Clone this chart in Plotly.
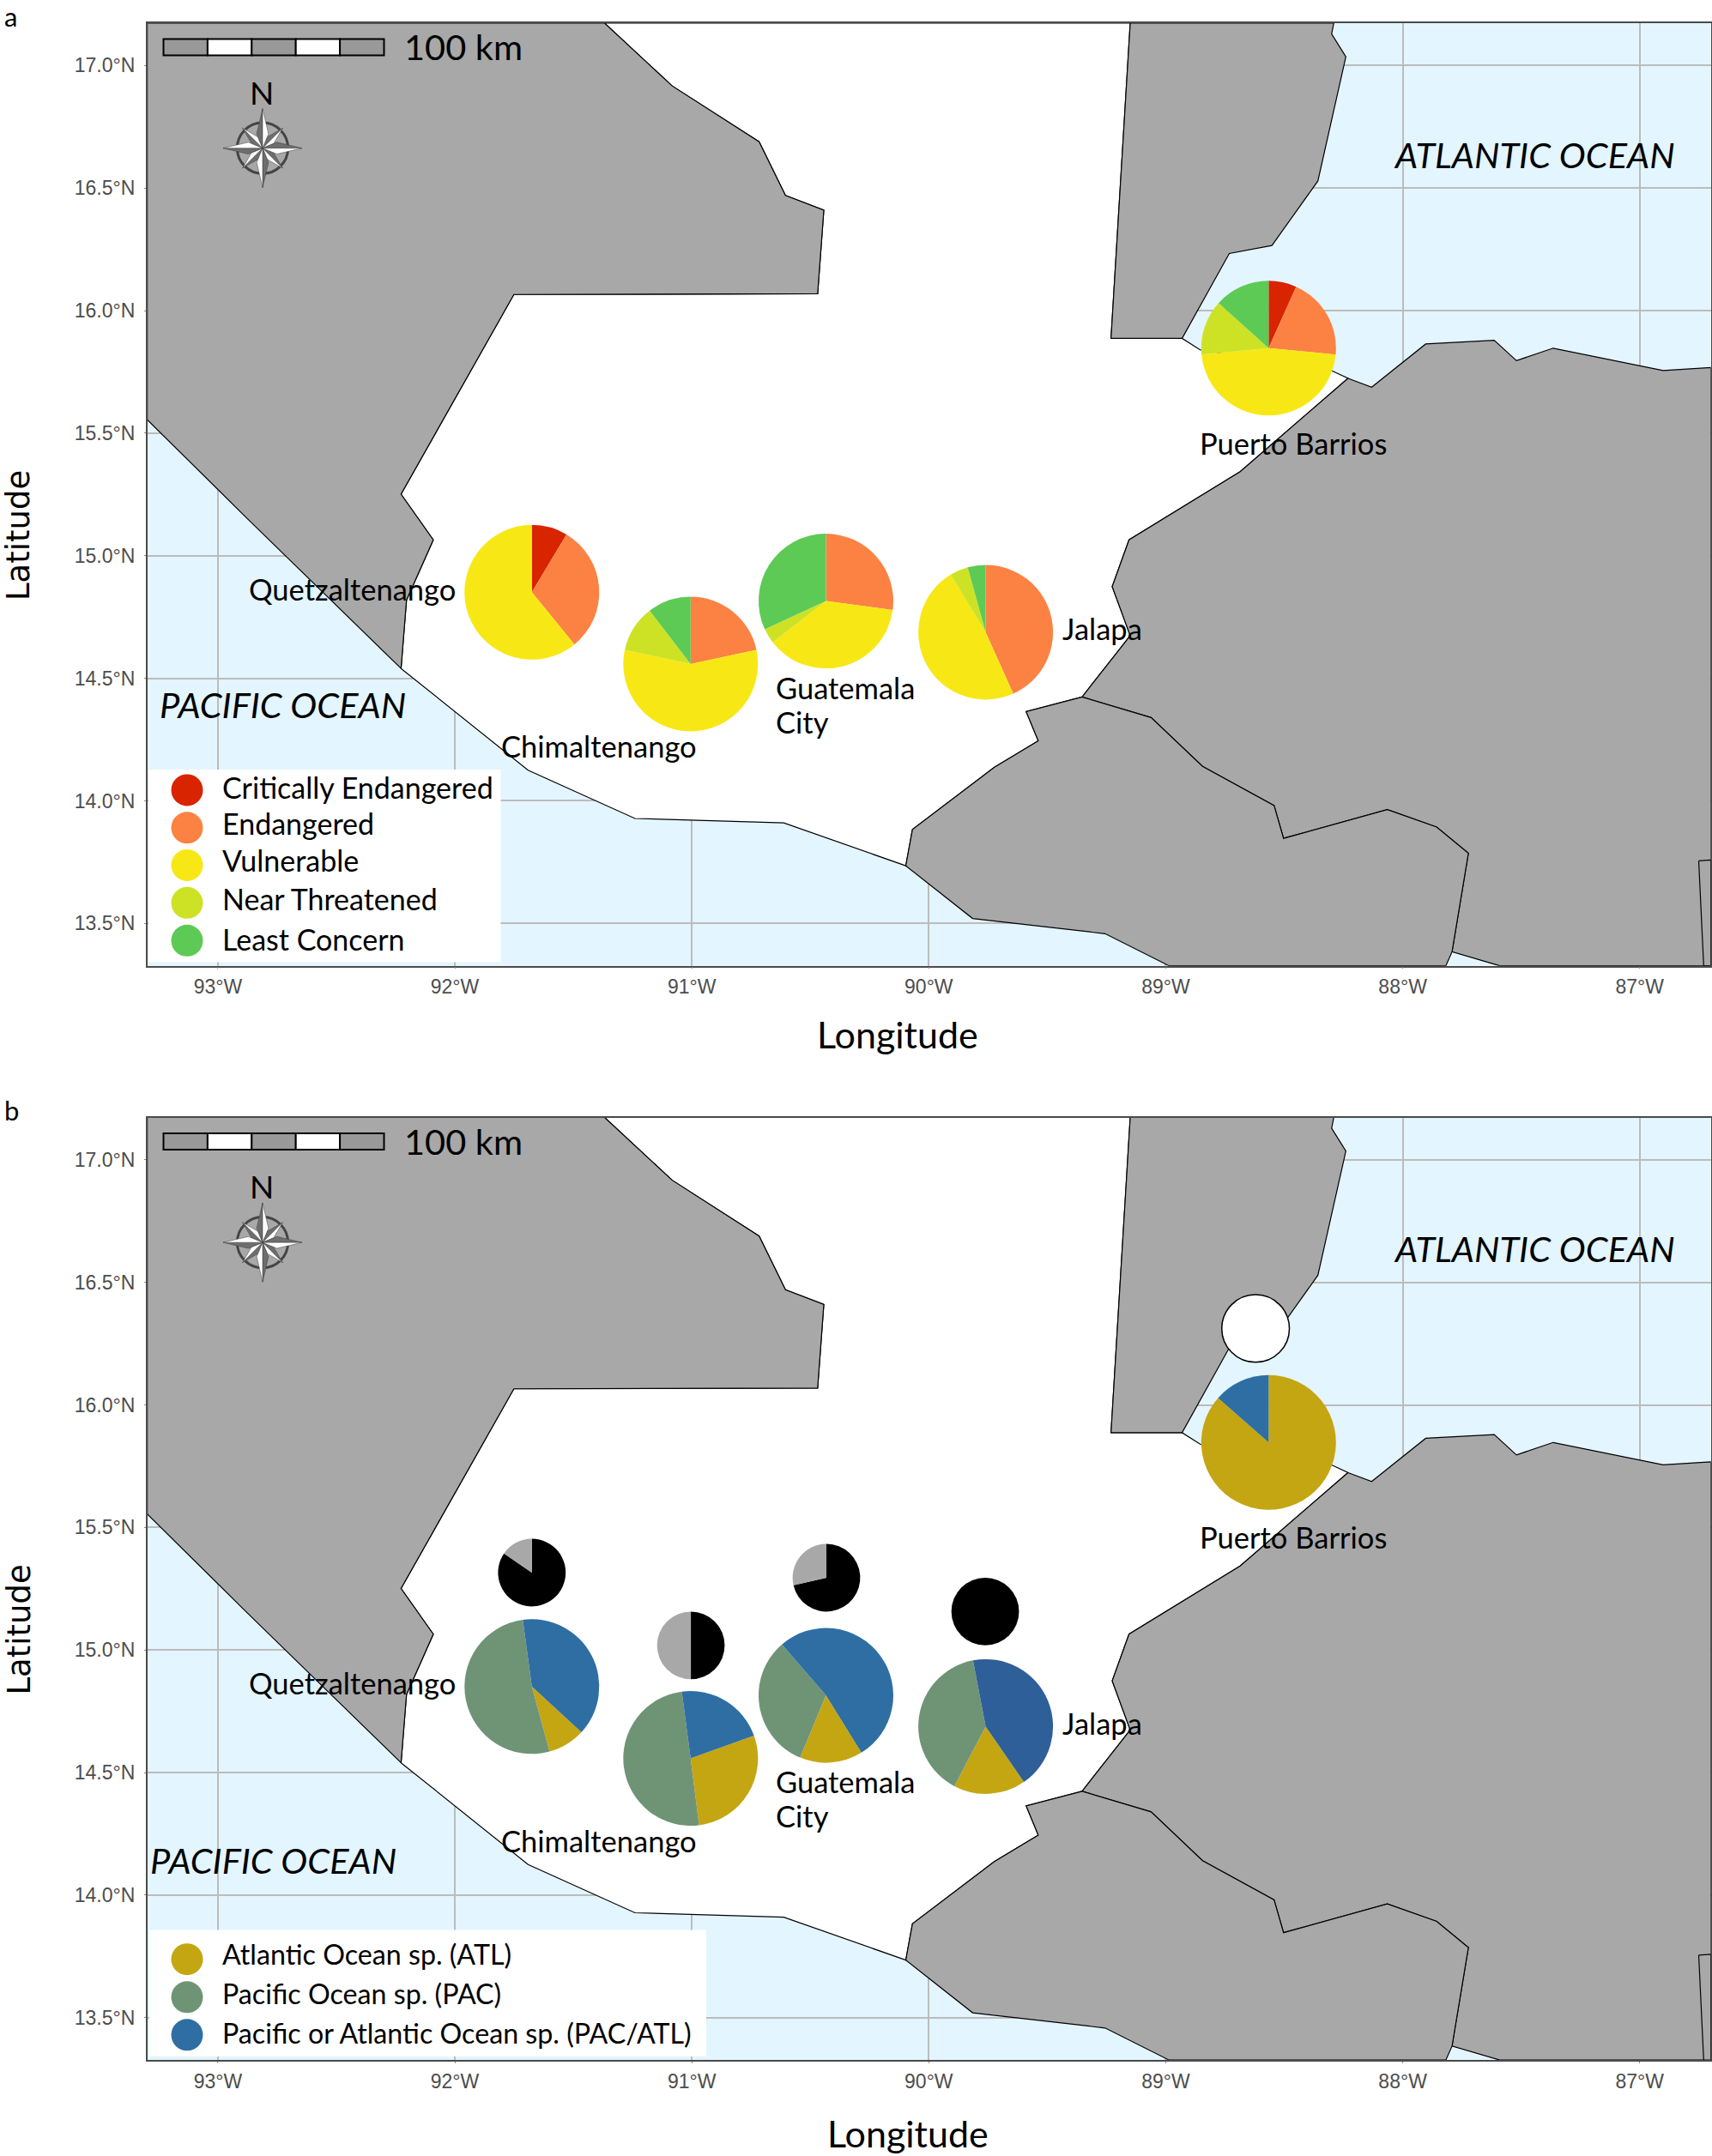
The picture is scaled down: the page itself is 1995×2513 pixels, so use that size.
import math
import plotly.graph_objects as go

# ---------- geography (lon / lat) ----------
MEXICO_LON = [-93.298, -91.368, -91.083, -90.716, -90.605, -90.443, -90.469, -91.751, -92.227, -92.091, -92.204, -92.227, -92.892, -93.298]
MEXICO_LAT = [17.173, 17.173, 16.917, 16.689, 16.470, 16.410, 16.069, 16.066, 15.251, 15.065, 14.819, 14.540, 15.167, 15.555]
BELIZE_LON = [-89.150, -88.291, -88.300, -88.240, -88.358, -88.552, -88.732, -88.931, -89.231]
BELIZE_LAT = [17.173, 17.173, 17.129, 17.036, 16.529, 16.266, 16.233, 15.887, 15.887]
HONDURAS_LON = [-88.231, -88.131, -87.903, -87.614, -87.520, -87.365, -86.901, -86.700, -86.700, -87.591, -87.792, -87.723, -87.857, -88.065, -88.503, -88.543, -88.845, -89.062, -89.353, -89.150, -89.226, -89.155, -88.686]
HONDURAS_LAT = [15.724, 15.688, 15.864, 15.879, 15.796, 15.847, 15.756, 15.768, 13.327, 13.327, 13.384, 13.786, 13.893, 13.964, 13.847, 13.981, 14.141, 14.340, 14.424, 14.674, 14.874, 15.065, 15.343]
SALVADOR_LON = [-89.353, -89.589, -89.538, -89.723, -90.069, -90.097, -89.815, -89.256, -88.986, -87.818, -87.792, -87.723, -87.857, -88.065, -88.503, -88.543, -88.845, -89.062]
SALVADOR_LAT = [14.424, 14.364, 14.245, 14.137, 13.883, 13.735, 13.520, 13.458, 13.327, 13.327, 13.384, 13.786, 13.893, 13.964, 13.847, 13.981, 14.141, 14.340]
NICARAGUA_LON = [-86.751, -86.700, -86.700, -86.730]
NICARAGUA_LAT = [13.755, 13.759, 13.327, 13.327]
GUATEMALA_LON = [-92.227, -91.691, -91.240, -90.612, -90.097, -90.069, -89.723, -89.538, -89.589, -89.353, -89.150, -89.226, -89.155, -88.686, -88.231, -88.306, -88.855, -88.931, -89.231, -89.150, -91.368, -91.083, -90.716, -90.605, -90.443, -90.469, -91.751, -92.227, -92.091, -92.204]
GUATEMALA_LAT = [14.540, 14.125, 13.928, 13.910, 13.735, 13.883, 14.137, 14.245, 14.364, 14.424, 14.674, 14.874, 15.065, 15.343, 15.724, 15.758, 15.840, 15.887, 15.887, 17.173, 17.173, 16.917, 16.689, 16.470, 16.410, 16.069, 16.066, 15.251, 15.065, 14.819]

# ---------- sites ----------
SITES = ["Quetzaltenango", "Chimaltenango", "Guatemala City", "Jalapa", "Puerto Barrios"]
SITE_LON = [-91.675, -91.005, -90.434, -89.760, -88.566]
SITE_LAT = [14.851, 14.558, 14.815, 14.688, 15.847]
SMALL_LON = [-91.675, -91.004, -90.432, -89.762, -88.621]
SMALL_LAT = [15.316, 15.019, 15.295, 15.157, 16.312]

# ---------- panel a: IUCN status (%) ----------
STATUS = ["Critically Endangered", "Endangered", "Vulnerable", "Near Threatened", "Least Concern"]
STATUS_COLORS = ["#d92400", "#fc8243", "#f7e815", "#cde225", "#5dca55"]
STATUS_VALUES = [
    [8.6, 30.5, 60.9, 0, 0],
    [0, 21.6, 56.8, 11.2, 10.4],
    [0, 27.1, 37.4, 3.6, 31.9],
    [0, 43.3, 48.0, 4.4, 4.3],
    [6.7, 19.8, 47.0, 13.2, 13.3],
]

# ---------- panel b: ocean distribution (%) ----------
OCEAN = ["Atlantic Ocean sp. (ATL)", "Pacific Ocean sp. (PAC)", "Pacific or Atlantic Ocean sp. (PAC/ATL)"]
OCEAN_COLORS = ["#c4a613", "#6f9475", "#2f6ea3"]
OCEAN_VALUES = [
    [8.9, 52.1, 39.0],
    [28.5, 49.9, 21.6],
    [15.1, 32.4, 52.5],
    [17.3, 39.3, 43.4],
    [86.5, 0, 13.5],
]
OCEAN_ROTATION = [164.8 - 32.1, 172.9 - 102.7, 202.6 - 54.4, 207.7 - 62.3, 0]
BLACK_VALUES = [84.6, 50.0, 71.4, 100.0, 0.0]
GREY_VALUES = [15.4, 50.0, 28.6, 0.0, 0.0]
EMPTY_VALUES = [0, 0, 0, 0, 100]

LON_TICKS = [-93, -92, -91, -90, -89, -88, -87]
LON_LABELS = ["93°W", "92°W", "91°W", "90°W", "89°W", "88°W", "87°W"]
LAT_TICKS = [13.5, 14.0, 14.5, 15.0, 15.5, 16.0, 16.5, 17.0]
LAT_LABELS = ["13.5°N", "14.0°N", "14.5°N", "15.0°N", "15.5°N", "16.0°N", "16.5°N", "17.0°N"]

# ---------- layout constants ----------
W, H = 1995, 2513
PX_L, PX_R = 171.6, 1993.6
PX_T, PX_B = 27.0, 1125.7
DY_B = 1275.5
XR = [-93.298, -86.700]
YR = [13.327, 17.173]
LAND = "#a8a8a8"
OCEAN_BG = "#e3f5fe"
TXT = "Lato"
LABEL_SIZE = 34.5


def px(X):
    return X / W


def py(Y):
    return 1 - Y / H


def lon2x(lon):
    return PX_L + (lon - XR[0]) / (XR[1] - XR[0]) * (PX_R - PX_L)


def lat2y(lat, dy):
    return PX_T + dy + (YR[1] - lat) / (YR[1] - YR[0]) * (PX_B - PX_T)


def pie_domain(lon, lat, r, dy):
    cx, cy = lon2x(lon), lat2y(lat, dy)
    return dict(x=[px(cx - r), px(cx + r)], y=[py(cy + r), py(cy - r)])


fig = go.Figure()
shapes, annos = [], []

for i, (xa, ya, dy) in enumerate([("x", "y", 0), ("x2", "y2", DY_B)]):
    polys = [
        (GUATEMALA_LON, GUATEMALA_LAT, "white"),
        (MEXICO_LON, MEXICO_LAT, LAND),
        (BELIZE_LON, BELIZE_LAT, LAND),
        (HONDURAS_LON, HONDURAS_LAT, LAND),
        (SALVADOR_LON, SALVADOR_LAT, LAND),
        (NICARAGUA_LON, NICARAGUA_LAT, LAND),
    ]
    for lon, lat, col in polys:
        fig.add_trace(go.Scatter(x=lon + lon[:1], y=lat + lat[:1], xaxis=xa, yaxis=ya, mode="lines",
                                 fill="toself", fillcolor=col, line=dict(color="black", width=1.2),
                                 showlegend=False, hoverinfo="skip"))

    # scale bar
    x0, x1, y0, y1 = 190.5, 447.5, 45.5 + dy, 64.5 + dy
    seg = (x1 - x0) / 5
    for k in range(5):
        shapes.append(dict(type="rect", xref="paper", yref="paper", x0=px(x0 + k * seg), x1=px(x0 + (k + 1) * seg),
                           y0=py(y1), y1=py(y0), fillcolor="white" if k % 2 else "#999999",
                           line=dict(color="black", width=2)))
    annos.append(dict(x=px(469), y=py(54.5 + dy), text="100 km", font=dict(family=TXT, size=41.5, color="black")))

    # north arrow
    cx, cy = 306.0, 172.7 + dy
    R = 29.6
    shapes.append(dict(type="circle", xref="paper", yref="paper", x0=px(cx - R), x1=px(cx + R), y0=py(cy + R), y1=py(cy - R),
                       line=dict(color="#444444", width=3), fillcolor="rgba(0,0,0,0)"))

    def facet(a_tip, L, a_in, r_in, col):
        tip = (cx + L * math.sin(a_tip), cy - L * math.cos(a_tip))
        inn = (cx + r_in * math.sin(a_in), cy - r_in * math.cos(a_in))
        path = f"M {px(cx)} {py(cy)} L {px(tip[0])} {py(tip[1])} L {px(inn[0])} {py(inn[1])} Z"
        shapes.append(dict(type="path", xref="paper", yref="paper", path=path, fillcolor=col,
                           line=dict(color="#3a3a3a", width=0.5)))

    for k in (1, 3, 5, 7, 0, 2, 4, 6):
        a = k * math.pi / 4
        L = 46 if k % 2 == 0 else 33
        ri = 18 if k % 2 == 0 else 14
        off = math.pi / 8
        facet(a, L, a - off, ri, "#6e6e6e")
        facet(a, L, a + off, ri, "white")
    annos.append(dict(x=px(305), y=py(107 + dy), text="N", xanchor="center",
                      font=dict(family=TXT, size=37, color="black")))

    # map labels
    annos.append(dict(x=px(1622), y=py(180 + dy), text="<i>ATLANTIC OCEAN</i>", font=dict(family=TXT, size=41.5, color="black")))
    pac = (184, 821) if i == 0 else (173, 2167.5 - DY_B)
    annos.append(dict(x=px(pac[0]), y=py(pac[1] + dy), text="<i>PACIFIC OCEAN</i>", font=dict(family=TXT, size=41.5, color="black")))
    label_pos = [(288, 686), (582, 869.5), (902, 801), (1236, 733), (1396, 516)]
    for name, (lx, ly) in zip(SITES, label_pos):
        if name == "Guatemala City":
            annos.append(dict(x=px(lx), y=py(ly + dy), text="Guatemala", font=dict(family=TXT, size=LABEL_SIZE, color="black")))
            annos.append(dict(x=px(lx), y=py(841 + dy), text="City", font=dict(family=TXT, size=LABEL_SIZE, color="black")))
        else:
            annos.append(dict(x=px(lx), y=py(ly + dy), text=name, font=dict(family=TXT, size=LABEL_SIZE, color="black")))

    # axis titles and panel letter
    annos.append(dict(x=px(1046 if i == 0 else 1058), y=py(1205 if i == 0 else 2486),
                      text="Longitude", xanchor="center", font=dict(family=TXT, size=43, color="black")))
    annos.append(dict(x=px(22), y=py(624 + dy), text="Latitude", textangle=-90, xanchor="center",
                      font=dict(family="DejaVu Sans", size=37, color="black")))
    annos.append(dict(x=px(3), y=py(18.5 + (1275 if i else 0)), text="ab"[i], font=dict(family=TXT, size=31, color="black")))

# legends
LEG_A = [920.9, 964.8, 1008.4, 1052.3, 1096.3]
LEG_A_T = [917, 959, 1002, 1047.5, 1094.5]
LEG_B = [2283.7, 2327.8, 2371.8]
LEG_B_T = [2277.5, 2323, 2369.5]
shapes.append(dict(type="rect", xref="paper", yref="paper", x0=px(173), x1=px(583.5), y0=py(1121.6), y1=py(897),
                   fillcolor="white", line=dict(width=0)))
shapes.append(dict(type="rect", xref="paper", yref="paper", x0=px(174), x1=px(823), y0=py(2397), y1=py(2249.5),
                   fillcolor="white", line=dict(width=0)))
for names, cols, ys, yt, fs in [(STATUS, STATUS_COLORS, LEG_A, LEG_A_T, 34), (OCEAN, OCEAN_COLORS, LEG_B, LEG_B_T, 32.2)]:
    for n, c, y_c, y_t in zip(names, cols, ys, yt):
        shapes.append(dict(type="circle", xref="paper", yref="paper", x0=px(218 - 18.5), x1=px(218 + 18.5),
                           y0=py(y_c + 18.5), y1=py(y_c - 18.5), fillcolor=c, line=dict(width=0)))
        annos.append(dict(x=px(257), y=py(y_t), text=n, font=dict(family=TXT, size=fs, color="black")))

# pies
BIG_R, SMALL_R = 78.5, 39.4
for j in range(5):
    fig.add_trace(go.Pie(labels=STATUS, values=STATUS_VALUES[j], sort=False, direction="clockwise", rotation=0,
                         marker=dict(colors=STATUS_COLORS, line=dict(width=0)), textinfo="none", hoverinfo="label+percent",
                         showlegend=False, domain=pie_domain(SITE_LON[j], SITE_LAT[j], BIG_R, 0)))
    cols = list(OCEAN_COLORS)
    if SITES[j] == "Jalapa":
        cols[2] = "#2e5f98"
    fig.add_trace(go.Pie(labels=OCEAN, values=OCEAN_VALUES[j], sort=False, direction="clockwise", rotation=OCEAN_ROTATION[j],
                         marker=dict(colors=cols, line=dict(width=0)), textinfo="none", hoverinfo="label+percent",
                         showlegend=False, domain=pie_domain(SITE_LON[j], SITE_LAT[j], BIG_R, DY_B)))
    if EMPTY_VALUES[j]:
        fig.add_trace(go.Pie(labels=["none"], values=[EMPTY_VALUES[j]], sort=False, textinfo="none",
                             marker=dict(colors=["white"], line=dict(color="black", width=1.5)), showlegend=False,
                             domain=pie_domain(SMALL_LON[j], SMALL_LAT[j], SMALL_R, DY_B)))
    else:
        fig.add_trace(go.Pie(labels=["black", "grey"], values=[BLACK_VALUES[j], GREY_VALUES[j]], sort=False,
                             direction="clockwise", rotation=0, textinfo="none",
                             marker=dict(colors=["black", LAND], line=dict(width=0)), showlegend=False,
                             domain=pie_domain(SMALL_LON[j], SMALL_LAT[j], SMALL_R, DY_B)))

for a in annos:
    a.update(xref="paper", yref="paper", showarrow=False)
    a.setdefault("xanchor", "left")
    a.setdefault("yanchor", "middle")

axis_common = dict(showgrid=True, gridcolor="#bcbcbc", gridwidth=1.5, zeroline=False, showline=True, mirror=True,
                   linecolor="#4a4a4a", linewidth=1.5, ticks="outside", ticklen=2, tickcolor="#8a8a8a", tickwidth=1,
                   tickfont=dict(family="Liberation Sans", size=23, color="#4d4d4d"))


def xaxis(anchor):
    return dict(axis_common, range=XR, domain=[px(PX_L), px(PX_R)], tickvals=LON_TICKS, ticktext=LON_LABELS,
                anchor=anchor, ticklabelstandoff=1)


def yaxis(anchor, dy):
    return dict(axis_common, range=YR, domain=[py(PX_B + dy), py(PX_T + dy)], tickvals=LAT_TICKS, ticktext=LAT_LABELS,
                anchor=anchor, ticklabelstandoff=6)


fig.update_layout(width=W, height=H, margin=dict(l=0, r=0, t=0, b=0), autosize=False,
                  paper_bgcolor="white", plot_bgcolor=OCEAN_BG, showlegend=False,
                  xaxis=xaxis("y"), yaxis=yaxis("x", 0), xaxis2=xaxis("y2"), yaxis2=yaxis("x2", DY_B),
                  shapes=shapes, annotations=annos)

fig.write_html("out.html", config={"displayModeBar": False}, post_script="document.body.style.margin='0';")
